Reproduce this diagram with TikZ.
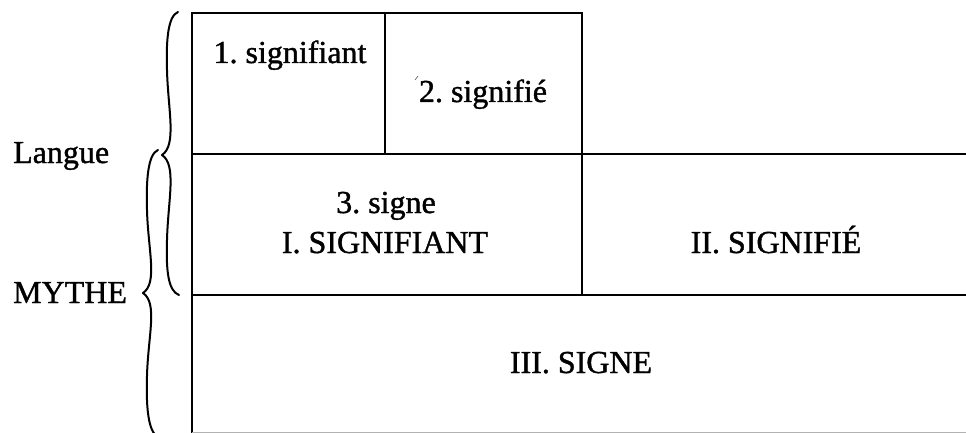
\documentclass[tikz,border=0pt]{standalone}
\usepackage{fontspec}
\setmainfont[FakeBold=1.2]{Liberation Serif}
\frenchspacing
\begin{document}
\begin{tikzpicture}[x=1pt,y=-1pt,
  grid/.style={line width=2.8pt,line cap=rect},
  bracestroke/.style={line width=2pt,line cap=round,line join=round},
  lbl/.style={anchor=base,inner sep=0pt,font=\fontsize{32}{38}\selectfont}]
\useasboundingbox (0,0) rectangle (966,433);
% table lines
\draw[grid] (192,13) -- (582,13);
\draw[grid] (192,13) -- (192,433);
\draw[grid] (385,13) -- (385,154);
\draw[grid] (582,13) -- (582,295);
\draw[grid] (192,154) -- (966,154);
\draw[grid] (192,295) -- (966,295);
\draw[line width=1pt,black!30] (192,432) -- (966,432);
% braces
\draw[bracestroke] (178,12) .. controls (168,16) and (166,40) .. (167,70)
  .. controls (168,110) and (177,145) .. (162,155)
  .. controls (177,165) and (168,200) .. (167,240)
  .. controls (166,270) and (168,291) .. (179,295);
\draw[bracestroke] (158,150) .. controls (148,154) and (146,180) .. (147,210)
  .. controls (148,250) and (158,283) .. (143,293)
  .. controls (158,303) and (148,336) .. (147,376)
  .. controls (146,406) and (148,432) .. (158,437);
% texts
\node[lbl] (s1) at (290,63) {1. signifiant};
\node[lbl] (s2) at (483,102) {2. signifié};
\draw[line width=0.7pt,black!60] (415,80) -- (418,76);
\node[lbl] (s3) at (386,213) {3. signe};
\node[lbl] (S1) at (385,253) {I. SIGNIFIANT};
\node[lbl] (S2) at (776,253) {II. SIGNIFIÉ};
\node[lbl] (S3) at (581,373) {III. SIGNE};
\node[lbl,anchor=base west] (lang) at (13,163) {Langue};
\node[lbl,anchor=base west] (myth) at (13,303) {MYTHE};
\end{tikzpicture}
\end{document}
